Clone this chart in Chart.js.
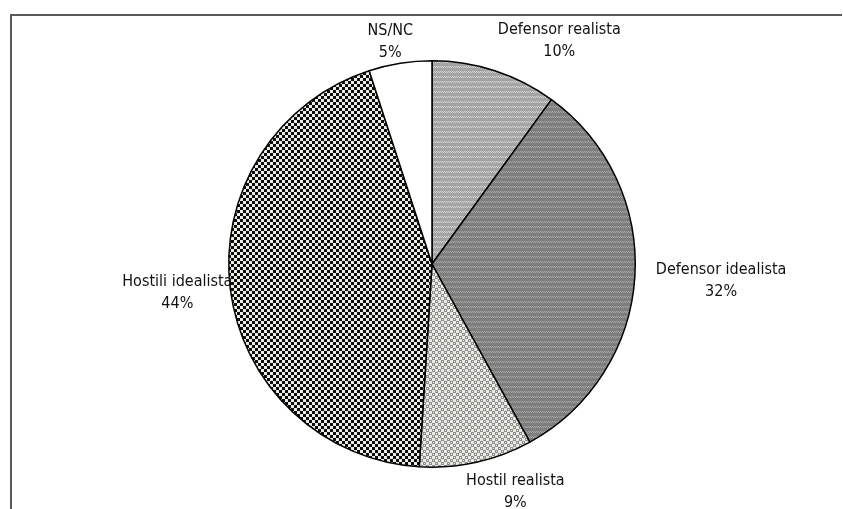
<!DOCTYPE html>
<html>
<head>
<meta charset="utf-8">
<script src="https://cdn.jsdelivr.net/npm/chart.js@4.4.0/dist/chart.umd.min.js"></script>
<style>
  html, body { margin: 0; padding: 0; background: #fff; }
  #wrap { width: 843px; height: 509px; position: relative; }
</style>
</head>
<body>
<div id="wrap"><canvas id="pieChart"></canvas></div>
<script>
// datos del gráfico
const categorias = ['Defensor realista', 'Defensor idealista', 'Hostil realista', 'Hostili idealista', 'NS/NC'];
const porcentajes = [10, 32, 9, 44, 5];

// pequeños ajustes de posición de las etiquetas (px), como en el original
const ajusteEtiquetas = [[5, 0], [13, -1], [5, 0], [10, -6], [2, 8]];

// ─── TRAMAS (patrones tipo Excel) ──────────────────────────────────────────
function makePattern(w, h, base, dots, color) {
  const c = document.createElement('canvas');
  c.width = w; c.height = h;
  const g = c.getContext('2d');
  g.fillStyle = base;
  g.fillRect(0, 0, w, h);
  g.fillStyle = color;
  dots.forEach(([x, y]) => g.fillRect(x, y, 1, 1));
  return g.createPattern(c, 'repeat');
}

function buildFills() {
  // rayas diagonales claras sobre gris
  const diag = [[0, 1], [1, 2], [2, 1], [3, 2], [4, 1], [5, 2]];
  const realista = makePattern(6, 5, '#a4a4a4', diag, '#d4d4d0');
  const idealista = makePattern(6, 5, '#7e7e7e', diag, '#a6a6a2');
  // cuadritos grises sobre crema
  const grisCrema = [];
  for (let y = 0; y < 6; y++) for (let x = 0; x < 6; x++) {
    const a = (x < 3) === (y < 3);
    if (!a && (x % 3 !== 1 || y % 3 !== 1)) grisCrema.push([x, y]);
  }
  const hostilReal = makePattern(6, 6, '#ebebe3', grisCrema, '#8e8e8e');
  // damero negro / crema
  const negros = [];
  for (let y = 0; y < 6; y++) for (let x = 0; x < 6; x++) {
    const a = (x < 3) === (y < 3);
    if (!a) negros.push([x, y]);
  }
  const hostilIdeal = makePattern(6, 6, '#ecece4', negros, '#0d0d0d');
  return [realista, idealista, hostilReal, hostilIdeal, '#ffffff'];
}

// ─── MARCO ─────────────────────────────────────────────────────────────────
const framePlugin = {
  id: 'frame',
  beforeDraw(chart) {
    const ctx = chart.ctx;
    ctx.save();
    ctx.strokeStyle = '#5a5a5a';
    ctx.lineWidth = 2;
    ctx.beginPath();
    ctx.moveTo(11, chart.height);
    ctx.lineTo(11, 15);
    ctx.lineTo(842, 15);
    ctx.stroke();
    ctx.restore();
  }
};

// ─── ETIQUETAS EXTERIORES ──────────────────────────────────────────────────
const labelsPlugin = {
  id: 'outerLabels',
  afterDatasetsDraw(chart) {
    const ctx = chart.ctx;
    const meta = chart.getDatasetMeta(0);
    const lineH = 22;
    ctx.save();
    ctx.font = '16px "Liberation Sans Narrow", "DejaVu Sans Condensed", sans-serif';
    ctx.fillStyle = '#111';
    ctx.textAlign = 'center';
    ctx.textBaseline = 'middle';
    meta.data.forEach((arc, i) => {
      const { x, y, startAngle, endAngle, outerRadius } = arc.getProps(['x', 'y', 'startAngle', 'endAngle', 'outerRadius'], true);
      const mid = (startAngle + endAngle) / 2;
      const dx = Math.cos(mid), dy = Math.sin(mid);
      const lines = [categorias[i], porcentajes[i] + '%'];
      const w = Math.max(...lines.map(t => ctx.measureText(t).width));
      const h = lines.length * lineH;
      const gap = 8;
      const clamp = v => Math.max(-1, Math.min(1, v));
      const [ox, oy] = ajusteEtiquetas[i];
      const cx = x + (outerRadius + gap) * dx + clamp(dx * 3) * w / 2 + ox;
      const cy = y + (outerRadius + gap) * dy + clamp(dy * 3) * h / 2 + oy;
      lines.forEach((t, j) => ctx.fillText(t, cx, cy - h / 2 + lineH / 2 + j * lineH));
    });
    ctx.restore();
  }
};

new Chart(document.getElementById('pieChart'), {
  type: 'pie',
  data: {
    labels: categorias,
    datasets: [{
      data: porcentajes,
      backgroundColor: buildFills(),
      borderColor: '#000',
      borderWidth: 1.5
    }]
  },
  options: {
    responsive: true,
    maintainAspectRatio: false,
    animation: false,
    layout: { padding: { top: 60, bottom: 41, left: 21, right: 0 } },
    plugins: {
      legend: { display: false },
      tooltip: { enabled: false }
    }
  },
  plugins: [framePlugin, labelsPlugin]
});
</script>
</body>
</html>
